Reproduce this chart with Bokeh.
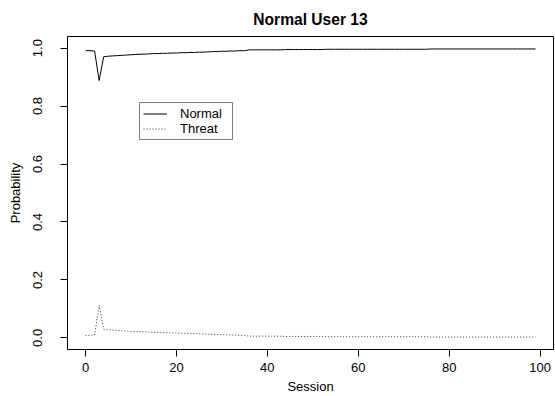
from bokeh.plotting import figure
from bokeh.models import Legend, LegendItem, FixedTicker
from bokeh.embed import file_html
from bokeh.resources import INLINE

# ---------------- data ----------------
session = list(range(100))

threat = [
    0.009, 0.009, 0.010, 0.112, 0.030, 0.028, 0.027, 0.026, 0.025, 0.024,
    0.023, 0.022, 0.021, 0.021, 0.020, 0.019, 0.019, 0.018, 0.018, 0.017,
    0.017, 0.016, 0.016, 0.015, 0.015, 0.014, 0.014, 0.013, 0.012, 0.012,
    0.011, 0.011, 0.010, 0.010, 0.009, 0.009, 0.006, 0.006, 0.006, 0.006,
    0.006, 0.006, 0.006, 0.006, 0.005, 0.005, 0.005, 0.005, 0.005, 0.005,
    0.005, 0.005, 0.005, 0.004, 0.004, 0.004, 0.004, 0.004, 0.004, 0.004,
    0.004, 0.004, 0.004, 0.004, 0.004, 0.004, 0.004, 0.004, 0.004, 0.004,
    0.004, 0.004, 0.004, 0.004, 0.004, 0.004, 0.003, 0.003, 0.003, 0.003,
    0.003, 0.003, 0.003, 0.003, 0.003, 0.003, 0.003, 0.003, 0.003, 0.003,
    0.003, 0.003, 0.003, 0.003, 0.003, 0.003, 0.003, 0.003, 0.003, 0.003,
]

normal = [
    0.991, 0.991, 0.990, 0.888, 0.970, 0.972, 0.973, 0.974, 0.975, 0.976,
    0.977, 0.978, 0.979, 0.979, 0.980, 0.981, 0.981, 0.982, 0.982, 0.983,
    0.983, 0.984, 0.984, 0.985, 0.985, 0.986, 0.986, 0.987, 0.988, 0.988,
    0.989, 0.989, 0.990, 0.990, 0.991, 0.991, 0.994, 0.994, 0.994, 0.994,
    0.994, 0.994, 0.994, 0.994, 0.995, 0.995, 0.995, 0.995, 0.995, 0.995,
    0.995, 0.995, 0.995, 0.996, 0.996, 0.996, 0.996, 0.996, 0.996, 0.996,
    0.996, 0.996, 0.996, 0.996, 0.996, 0.996, 0.996, 0.996, 0.996, 0.996,
    0.996, 0.996, 0.996, 0.996, 0.996, 0.996, 0.997, 0.997, 0.997, 0.997,
    0.997, 0.997, 0.997, 0.997, 0.997, 0.997, 0.997, 0.997, 0.997, 0.997,
    0.997, 0.997, 0.997, 0.997, 0.997, 0.997, 0.997, 0.997, 0.997, 0.997,
]

series_names = ["Normal", "Threat"]
x_ticks = [0, 20, 40, 60, 80, 100]
x_tick_labels = ["0", "20", "40", "60", "80", "100"]
y_ticks = [0.0, 0.2, 0.4, 0.6, 0.8, 1.0]
y_tick_labels = ["0.0", "0.2", "0.4", "0.6", "0.8", "1.0"]
title_text = "Normal User 13"
x_label = "Session"
y_label = "Probability"

# R-style 4% range extension
x_lo, x_hi = min(session), max(session)
x_pad = 0.04 * (x_hi - x_lo)
y_lo, y_hi = 0.0, 1.0
y_pad = 0.04 * (y_hi - y_lo)

FONT = "Liberation Sans"

p = figure(
    width=555, height=396,
    output_backend="svg", toolbar_location=None,
    x_range=(x_lo - x_pad, x_hi + x_pad),
    y_range=(y_lo - y_pad, y_hi + y_pad),
    min_border_left=67, min_border_right=2,
    min_border_top=35, min_border_bottom=47,
    background_fill_color="white", border_fill_color="white",
)

p.grid.visible = False
p.outline_line_color = "black"
p.outline_line_width = 1

p.title.text = title_text
p.title.align = "center"
p.title.text_font = FONT
p.title.text_font_size = "15.6px"
p.title.text_font_style = "bold"
p.title.text_color = "black"
p.title.standoff = 17

xa = p.xaxis[0]
ya = p.yaxis[0]
xa.ticker = FixedTicker(ticks=x_ticks)
ya.ticker = FixedTicker(ticks=y_ticks)
xa.major_label_overrides = {t: l for t, l in zip(x_ticks, x_tick_labels)}
ya.major_label_overrides = {t: l for t, l in zip(y_ticks, y_tick_labels)}
xa.axis_label = x_label
ya.axis_label = y_label
ya.major_label_orientation = "vertical"

for ax in (xa, ya):
    ax.axis_line_color = None
    ax.major_tick_in = 0
    ax.major_tick_out = 7
    ax.major_tick_line_color = "black"
    ax.major_tick_line_width = 1
    ax.minor_tick_line_color = None
    ax.major_label_text_font = FONT
    ax.major_label_text_font_size = "13px"
    ax.major_label_text_color = "black"
    ax.axis_label_text_font = FONT
    ax.axis_label_text_font_size = "13px"
    ax.axis_label_text_font_style = "normal"
    ax.axis_label_text_color = "black"

xa.major_label_standoff = 6
xa.axis_label_standoff = 4
ya.major_label_standoff = 18
ya.axis_label_standoff = 8

r_normal = p.line(session, normal, line_color="black", line_width=1)
r_threat = p.line(session, threat, line_color="black", line_width=1,
                  line_dash="1 2", line_alpha=0.8)

legend = Legend(
    items=[LegendItem(label=series_names[0], renderers=[r_normal]),
           LegendItem(label=series_names[1], renderers=[r_threat])],
    location=(72, 209),
)
legend.border_line_color = "black"
legend.border_line_width = 1
legend.background_fill_color = "white"
legend.background_fill_alpha = 1
legend.padding = 3
legend.spacing = 0
legend.margin = 0
legend.glyph_width = 24
legend.glyph_height = 11
legend.label_height = 11
legend.label_width = 49
legend.label_standoff = 13
legend.label_text_font = FONT
legend.label_text_font_size = "13px"
legend.label_text_color = "black"
p.add_layout(legend)

open("out.html", "w").write(file_html(p, INLINE))
